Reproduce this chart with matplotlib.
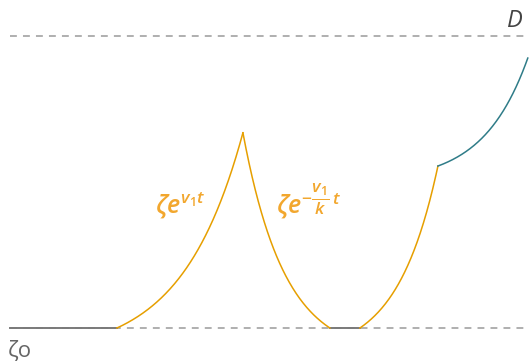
import numpy as np
import matplotlib.pyplot as plt

plt.rcParams['mathtext.fontset'] = 'custom'
plt.rcParams['mathtext.rm'] = 'Open Sans:semibold'
plt.rcParams['mathtext.it'] = 'Open Sans:italic:semibold'
plt.rcParams['mathtext.bf'] = 'Open Sans:bold'

# model parameters (time in arbitrary units, zeta0 = 1)
zeta0 = 1.0
D = 11.47
v1 = 1.0
k = 0.69
v2 = 1.49
# phase boundaries: rest, growth, decay, rest, growth, saturating
t_breaks = [-1.77, 0.0, 2.079, 3.514, 4.01, 5.297, 6.78]
teal_amp = 0.59
teal_rate = 1.364

orange = '#E69F00'
teal = '#2F7C88'
rest_gray = '#7a7a7a'
dash_gray = '#9a9a9a'

fig = plt.figure(figsize=(5.29, 3.64), dpi=100)
ax = fig.add_axes([0, 0, 1, 1])
ax.set_xlim(-1.93, 6.80)
ax.set_ylim(-0.29, 12.756)
ax.axis('off')

t0, t1, t2, t3, t4, t5, t6 = t_breaks

# reference levels
for lvl in (zeta0, D):
    ax.plot([t0, 6.80], [lvl, lvl], color=dash_gray, lw=1.1,
            dashes=(4.5, 4.0), zorder=1)

# resting phases
ax.plot([t0, t1], [zeta0, zeta0], color=rest_gray, lw=1.4, zorder=2)
ax.plot([t3, t4], [zeta0, zeta0], color=rest_gray, lw=1.4, zorder=2)

# exponential growth
tg = np.linspace(t1, t2, 200)
peak = zeta0 * np.exp(v1 * (t2 - t1))
ax.plot(tg, zeta0 * np.exp(v1 * (tg - t1)), color=orange, lw=1.1, zorder=3)

# decay back to zeta0
td = np.linspace(t2, t3, 200)
ax.plot(td, peak * np.exp(-(v1 / k) * (td - t2)), color=orange, lw=1.1, zorder=3)

# second growth
tg2 = np.linspace(t4, t5, 200)
ax.plot(tg2, zeta0 * np.exp(v2 * (tg2 - t4)), color=orange, lw=1.1, zorder=3)
top2 = zeta0 * np.exp(v2 * (t5 - t4))

# final phase
tf = np.linspace(t5, t6, 200)
ax.plot(tf, top2 + teal_amp * (np.exp(teal_rate * (tf - t5)) - 1),
        color=teal, lw=1.1, zorder=3)

# labels
ax.text(0.63, 5.1, r'$\zeta e^{v_1 t}$', color='#F2A72E', fontsize=18,
        ha='left', va='baseline')
ax.text(2.63, 5.1, r'$\zeta e^{-\dfrac{v_1}{k}\,t}$', color='#F2A72E', fontsize=18,
        ha='left', va='baseline')
ax.text(-1.8, -0.04, 'ζo', color='#666666', fontsize=16, family='Open Sans',
        ha='left', va='baseline')
ax.text(6.57, 11.79, 'D', color='#444444', fontsize=17, family='Open Sans',
        style='italic', ha='center', va='baseline')

fig.savefig('out.png', dpi=100)
